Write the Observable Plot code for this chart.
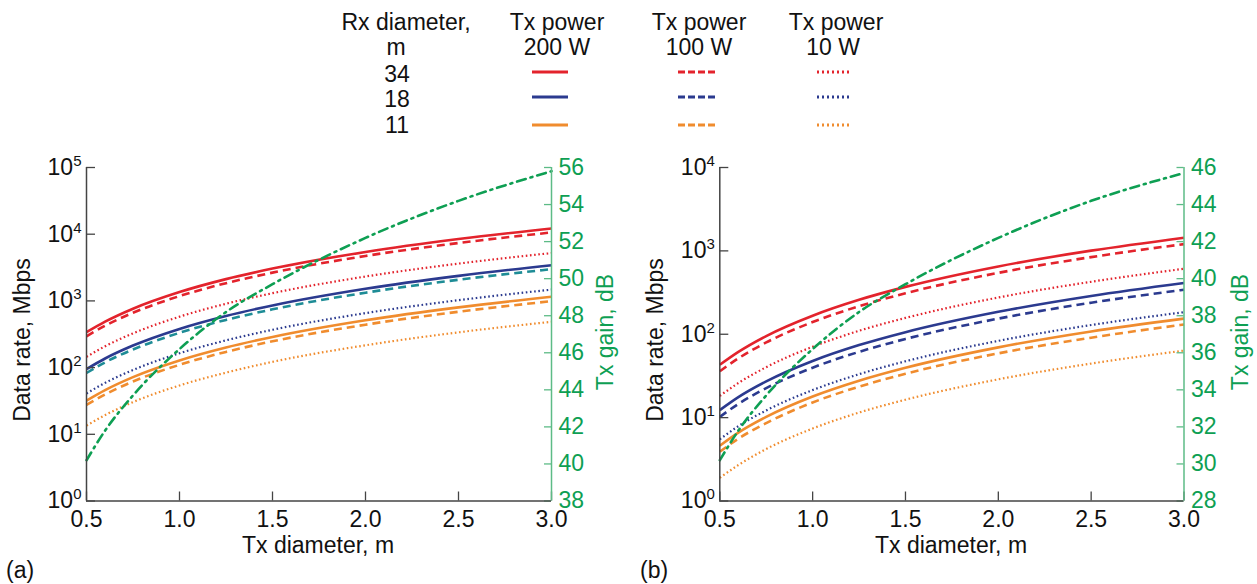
<!DOCTYPE html>
<html><head><meta charset="utf-8">
<script src="https://cdn.jsdelivr.net/npm/d3@7"></script>
<script src="https://cdn.jsdelivr.net/npm/@observablehq/plot@0.6"></script>
<style>
body{margin:0;background:#fff;font-family:"Liberation Sans",Arial,sans-serif;}
#root{position:relative;width:1257px;height:584px;overflow:hidden;background:#fff;}
.t{position:absolute;font-size:23px;color:#111;white-space:nowrap;line-height:23px;}
.p{position:absolute;}
</style></head><body><div id="root"></div>
<script>
// ---------- data ----------
const txDiameter = [0.5, 0.6, 0.75, 1.0, 1.25, 1.5, 2.0, 2.5, 3.0];
const xTicks = [0.5, 1.0, 1.5, 2.0, 2.5, 3.0];
const rxDiameters = ["34", "18", "11"];
const txPowers = ["200 W", "100 W", "10 W"];

// panel (a) data rate, Mbps
const a34_200 = [339, 488, 763, 1356, 2120, 3050, 5420, 8470, 12200];
const a34_100 = [295, 425, 664, 1180, 1844, 2655, 4720, 7375, 10620];
const a34_10  = [145, 209, 326, 580, 906, 1305, 2320, 3625, 5220];
const a18_200 = [95, 137, 214, 380, 594, 855, 1520, 2375, 3420];
const a18_100 = [83, 120, 187, 332, 519, 747, 1328, 2075, 2990];
const a18_10  = [41, 59, 92, 164, 256, 369, 656, 1025, 1476];
const a11_200 = [32, 46, 72, 128, 200, 288, 512, 800, 1152];
const a11_100 = [27.5, 39.6, 62, 110, 172, 248, 440, 688, 990];
const a11_10  = [13.5, 19.4, 30.4, 54, 84, 122, 216, 338, 486];
const gainA   = [40.2, 41.8, 43.7, 46.2, 48.2, 49.7, 52.2, 54.2, 55.8];
const yTicksA = [1, 10, 100, 1000, 10000, 100000];
const gainTicksA = [38, 40, 42, 44, 46, 48, 50, 52, 54, 56];

// panel (b) data rate, Mbps
const b34_200 = [43, 61.4, 95.2, 167, 259, 370, 651, 1006, 1440];
const b34_100 = [36, 51.4, 79.7, 140, 217, 310, 545, 842, 1206];
const b34_10  = [18.2, 26, 40.3, 70.8, 110, 157, 276, 426, 610];
const b18_200 = [12.3, 17.6, 27.2, 47.8, 74.2, 106, 186, 288, 412];
const b18_100 = [10.2, 14.6, 22.6, 39.7, 61.5, 87.8, 154, 239, 342];
const b18_10  = [5.5, 7.9, 12.2, 21.4, 33.2, 47.4, 83.3, 129, 184];
const b11_200 = [4.6, 6.6, 10.2, 17.9, 27.7, 39.6, 69.6, 108, 154];
const b11_100 = [3.9, 5.6, 8.6, 15.2, 23.5, 33.6, 59, 91, 131];
const b11_10  = [1.9, 2.7, 4.2, 7.4, 11.5, 16.4, 28.8, 44.5, 63.7];
const gainB   = [30.2, 31.8, 33.7, 36.2, 38.2, 39.7, 42.2, 44.2, 45.7];
const yTicksB = [1, 10, 100, 1000, 10000];
const gainTicksB = [28, 30, 32, 34, 36, 38, 40, 42, 44, 46];

// ---------- styles ----------
const RED = "#e3232c", BLUE = "#2b3a8f", ORANGE = "#f08c2e", TEAL = "#1e8c96";
const GREEN = "#0e9f53", GREENAXIS = "#5dbb86", AXIS = "#444";
const rxColors = [RED, BLUE, ORANGE];
const dashStyles = [
  {dash: null, width: 2.6, cap: "butt"},
  {dash: "8,5", width: 2.6, cap: "butt"},
  {dash: "1.6,2.6", width: 2.2, cap: "butt"}
];

const root = document.getElementById("root");
function addText(txt, cx, base, opt = {}) {
  const d = document.createElement("div");
  d.className = "t";
  d.textContent = txt;
  if (opt.color) d.style.color = opt.color;
  if (opt.rotate) {
    d.style.left = cx + "px"; d.style.top = base + "px";
    d.style.transform = "translate(-50%,-50%) rotate(-90deg)";
  } else if (opt.left) {
    d.style.left = cx + "px"; d.style.top = (base - 19.5) + "px";
  } else {
    d.style.left = cx + "px"; d.style.top = (base - 19.5) + "px";
    d.style.transform = "translateX(-50%)";
  }
  root.appendChild(d);
}

// ---------- legend ----------
addText("Rx diameter,", 406, 30);
addText("m", 396, 55);
const rowY = [72, 97, 125];
const rowBase = [82, 107, 133];
rxDiameters.forEach((r, i) => addText(r, 397, rowBase[i]));
const colC = [557, 699, 836];
const colLine = [[532, 568], [678, 715], [817, 852]];
const legendDash = [null, "7,3", "2,3"];
txPowers.forEach((p, j) => {
  addText("Tx power", colC[j], 30);
  addText(p, colC[j] - (j === 2 ? 3 : 0), 55);
});
const ns = "http://www.w3.org/2000/svg";
const lsvg = document.createElementNS(ns, "svg");
lsvg.setAttribute("width", 1257); lsvg.setAttribute("height", 140);
lsvg.style.position = "absolute"; lsvg.style.left = "0"; lsvg.style.top = "0";
rxDiameters.forEach((r, i) => txPowers.forEach((p, j) => {
  const l = document.createElementNS(ns, "line");
  l.setAttribute("x1", colLine[j][0]); l.setAttribute("x2", colLine[j][1]);
  l.setAttribute("y1", rowY[i]); l.setAttribute("y2", rowY[i]);
  l.setAttribute("stroke", rxColors[i]); l.setAttribute("stroke-width", 3);
  if (legendDash[j]) l.setAttribute("stroke-dasharray", legendDash[j]);
  lsvg.appendChild(l);
}));
root.appendChild(lsvg);

// ---------- panels ----------
function panel({series, gain, yTicks, gainTicks, left, width, ml, mr}) {
  const yMax = yTicks[yTicks.length - 1];
  const dec = Math.log10(yMax);
  const gMin = gainTicks[0], gMax = gainTicks[gainTicks.length - 1];
  const g2y = g => Math.pow(10, (g - gMin) / (gMax - gMin) * dec);
  const plotW = width - ml - mr;
  const marks = [];
  series.forEach(s => {
    marks.push(Plot.line(txDiameter.map((x, i) => ({x, y: s.values[i]})), {
      x: "x", y: "y", stroke: s.color, strokeWidth: s.width,
      strokeDasharray: s.dash, strokeLinecap: s.cap, curve: "monotone-x"
    }));
  });
  marks.push(Plot.line(txDiameter.map((x, i) => ({x, y: g2y(gain[i])})), {
    x: "x", y: "y", stroke: GREEN, strokeWidth: 2.6, strokeDasharray: "9,5,2,5", curve: "monotone-x"
  }));
  marks.push(
    Plot.axisX(xTicks, {tickSize: -9, tickFormat: () => "", stroke: AXIS, strokeWidth: 1.3}),
    Plot.axisX(xTicks, {tickSize: 0, tickPadding: 10, tickFormat: d3.format(".1f"), fill: "#111"}),
    Plot.axisY(yTicks, {tickSize: -9, tickFormat: () => "", stroke: AXIS, strokeWidth: 1.3}),
    Plot.axisY(yTicks, {tickSize: 0, tickPadding: 5, tickFormat: d => "10^" + Math.round(Math.log10(d)), fill: "#111"}),
    Plot.tickY(gainTicks, {y: g2y, insetLeft: plotW - 7, stroke: GREENAXIS, strokeWidth: 1.3}),
    Plot.text(gainTicks, {y: g2y, text: d => String(d), frameAnchor: "right", textAnchor: "start", dx: 7, fill: GREEN}),
    Plot.ruleX([0.5], {stroke: AXIS, strokeWidth: 1.5}),
    Plot.ruleY([1], {stroke: AXIS, strokeWidth: 1.5}),
    Plot.ruleX([3.0], {stroke: GREENAXIS, strokeWidth: 1.5})
  );
  const svg = Plot.plot({
    width, height: 434,
    marginLeft: ml, marginRight: mr, marginTop: 17, marginBottom: 83.5,
    x: {domain: [0.5, 3.0], label: null},
    y: {type: "log", domain: [1, yMax], label: null},
    style: {fontFamily: "'Liberation Sans', Arial, sans-serif", fontSize: "23px", background: "transparent", overflow: "visible"},
    marks
  });
  svg.querySelectorAll("text").forEach(t => {
    const m = /^10\^(\d+)$/.exec(t.textContent);
    if (m) {
      t.textContent = "10";
      const sp = document.createElementNS(ns, "tspan");
      sp.setAttribute("dy", "-9");
      sp.setAttribute("font-size", "15");
      sp.textContent = m[1];
      t.appendChild(sp);
    }
  });
  const wrap = document.createElement("div");
  wrap.className = "p";
  wrap.style.left = left + "px"; wrap.style.top = "150px";
  wrap.appendChild(svg);
  root.appendChild(wrap);
}

function mkSeries(vals, blueDashColor) {
  const out = [];
  vals.forEach((row, i) => row.forEach((v, j) => {
    let color = rxColors[i];
    if (i === 1 && j === 1 && blueDashColor) color = blueDashColor;
    out.push({values: v, color, dash: dashStyles[j].dash, width: dashStyles[j].width, cap: dashStyles[j].cap});
  }));
  return out;
}

panel({
  series: mkSeries([[a34_200, a34_100, a34_10], [a18_200, a18_100, a18_10], [a11_200, a11_100, a11_10]], TEAL),
  gain: gainA, yTicks: yTicksA, gainTicks: gainTicksA,
  left: 0, width: 625, ml: 86, mr: 74
});
panel({
  series: mkSeries([[b34_200, b34_100, b34_10], [b18_200, b18_100, b18_10], [b11_200, b11_100, b11_10]], null),
  gain: gainB, yTicks: yTicksB, gainTicks: gainTicksB,
  left: 635, width: 622, ml: 84.3, mr: 73.5
});

// axis titles and panel tags
addText("Data rate, Mbps", 22, 340, {rotate: true});
addText("Tx gain, dB", 605, 332, {rotate: true, color: GREEN});
addText("Tx diameter, m", 318, 553);
addText("(a)", 6, 578, {left: true});
addText("Data rate, Mbps", 655, 340, {rotate: true});
addText("Tx gain, dB", 1240, 332, {rotate: true, color: GREEN});
addText("Tx diameter, m", 951, 553);
addText("(b)", 640, 578, {left: true});
</script></body></html>
